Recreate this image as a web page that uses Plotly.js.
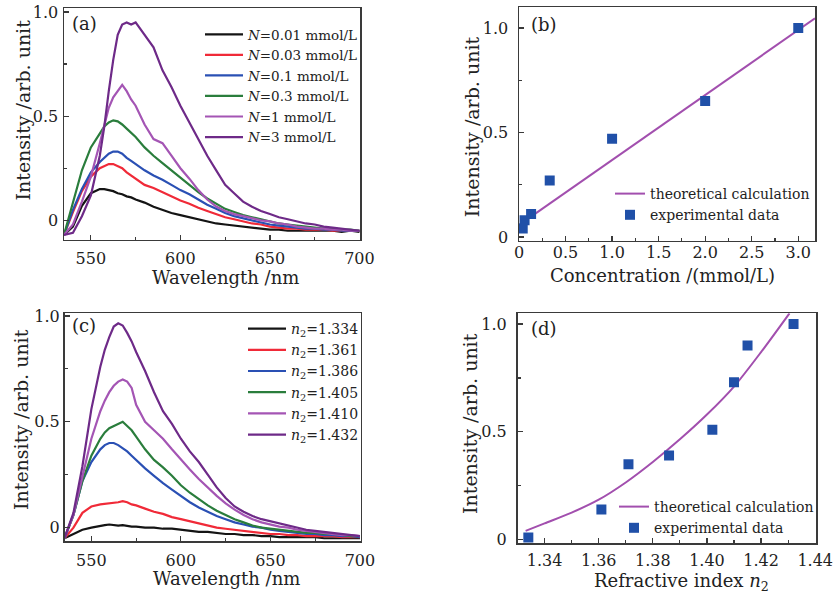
<!DOCTYPE html>
<html><head><meta charset="utf-8">
<script src="https://cdn.plot.ly/plotly-3.0.1.min.js"></script>
<style>html,body{margin:0;padding:0;background:#fff}#chart{width:835px;height:598px}</style>
</head><body><div id="chart"></div>
<script>
// ---------- DATA ----------
const wavelength = [535,540,545,550,555,557.5,560,562.5,565,567.5,570,572.5,575,580,585,590,595,600,605,610,615,620,625,630,635,640,645,650,655,660,665,670,675,680,685,690,695,700];

// panel (a): concentration series
const concLabels = ['<i>N</i>=0.01 mmol/L','<i>N</i>=0.03 mmol/L','<i>N</i>=0.1 mmol/L','<i>N</i>=0.3 mmol/L','<i>N</i>=1 mmol/L','<i>N</i>=3 mmol/L'];
const concN001 = [-0.07,-0.03,0.07,0.13,0.15,0.15,0.145,0.14,0.13,0.125,0.115,0.11,0.10,0.085,0.065,0.05,0.035,0.025,0.015,0.005,-0.005,-0.015,-0.02,-0.025,-0.03,-0.035,-0.04,-0.045,-0.045,-0.05,-0.05,-0.05,-0.05,-0.05,-0.05,-0.055,-0.05,-0.055];
const concN003 = [-0.07,0.04,0.14,0.21,0.25,0.26,0.27,0.27,0.26,0.25,0.23,0.215,0.20,0.17,0.155,0.135,0.115,0.095,0.08,0.06,0.045,0.03,0.015,0.005,-0.005,-0.015,-0.02,-0.03,-0.035,-0.04,-0.04,-0.045,-0.045,-0.045,-0.05,-0.05,-0.05,-0.05];
const concN01 = [-0.07,0.05,0.15,0.23,0.28,0.30,0.32,0.33,0.33,0.32,0.30,0.285,0.27,0.24,0.215,0.195,0.17,0.145,0.125,0.10,0.075,0.055,0.035,0.02,0.01,0.0,-0.01,-0.02,-0.025,-0.03,-0.035,-0.04,-0.04,-0.045,-0.045,-0.05,-0.05,-0.05];
const concN03 = [-0.07,0.08,0.24,0.35,0.42,0.45,0.47,0.48,0.475,0.46,0.44,0.42,0.40,0.35,0.31,0.275,0.24,0.205,0.17,0.135,0.105,0.08,0.055,0.04,0.025,0.015,0.005,-0.005,-0.015,-0.02,-0.025,-0.03,-0.035,-0.04,-0.04,-0.045,-0.045,-0.05];
const concN1 = [-0.07,-0.02,0.09,0.21,0.37,0.46,0.54,0.59,0.62,0.65,0.62,0.58,0.55,0.46,0.39,0.37,0.31,0.25,0.20,0.145,0.10,0.066,0.045,0.03,0.02,0.01,0.0,-0.005,-0.015,-0.02,-0.03,-0.035,-0.04,-0.04,-0.045,-0.045,-0.05,-0.05];
const concN3 = [-0.07,-0.06,0.02,0.12,0.31,0.45,0.62,0.77,0.89,0.94,0.95,0.94,0.95,0.89,0.83,0.72,0.64,0.55,0.47,0.39,0.31,0.24,0.17,0.13,0.09,0.065,0.045,0.03,0.015,0.005,-0.005,-0.015,-0.02,-0.03,-0.035,-0.04,-0.045,-0.05];

// panel (b)
const concX = [0.04,0.06,0.13,0.33,1.0,2.0,3.0];
const concExpY = [0.04,0.08,0.11,0.27,0.47,0.65,1.0];
const concTheoryX = [0.01,3.18];
const concTheoryY = [0.06,1.046];

// panel (c): refractive index series
const nLabels = ['<i>n</i><sub>2</sub>=1.334','<i>n</i><sub>2</sub>=1.361','<i>n</i><sub>2</sub>=1.386','<i>n</i><sub>2</sub>=1.405','<i>n</i><sub>2</sub>=1.410','<i>n</i><sub>2</sub>=1.432'];
const n1334 = [-0.05,-0.03,-0.01,0.0,0.01,0.012,0.015,0.013,0.01,0.012,0.008,0.005,0.005,0.0,0.0,-0.005,-0.005,-0.01,-0.015,-0.02,-0.02,-0.025,-0.03,-0.03,-0.035,-0.035,-0.04,-0.04,-0.045,-0.045,-0.045,-0.045,-0.045,-0.05,-0.05,-0.05,-0.05,-0.05];
const n1361 = [-0.05,0.0,0.07,0.10,0.11,0.112,0.115,0.117,0.12,0.125,0.12,0.11,0.105,0.09,0.075,0.065,0.05,0.04,0.03,0.02,0.01,0.0,-0.005,-0.01,-0.015,-0.02,-0.025,-0.03,-0.03,-0.035,-0.035,-0.04,-0.04,-0.04,-0.04,-0.045,-0.045,-0.045];
const n1386 = [-0.05,0.06,0.22,0.31,0.37,0.39,0.40,0.40,0.39,0.375,0.36,0.34,0.32,0.28,0.245,0.21,0.18,0.15,0.12,0.095,0.075,0.055,0.04,0.025,0.015,0.005,0.0,-0.01,-0.015,-0.02,-0.025,-0.03,-0.03,-0.035,-0.035,-0.04,-0.04,-0.045];
const n1405 = [-0.05,0.06,0.22,0.34,0.42,0.45,0.47,0.48,0.49,0.50,0.48,0.46,0.43,0.37,0.32,0.285,0.245,0.20,0.165,0.135,0.105,0.08,0.06,0.04,0.025,0.01,0.0,-0.005,-0.01,-0.015,-0.02,-0.025,-0.025,-0.03,-0.03,-0.035,-0.04,-0.04];
const n1410 = [-0.05,0.06,0.24,0.42,0.55,0.60,0.64,0.67,0.69,0.70,0.69,0.66,0.58,0.50,0.46,0.42,0.37,0.32,0.275,0.23,0.19,0.15,0.115,0.085,0.06,0.04,0.025,0.015,0.005,0.0,-0.01,-0.015,-0.02,-0.025,-0.03,-0.035,-0.035,-0.04];
const n1432 = [-0.05,0.07,0.29,0.56,0.76,0.84,0.90,0.95,0.965,0.955,0.92,0.88,0.83,0.74,0.64,0.55,0.49,0.42,0.36,0.31,0.25,0.19,0.14,0.10,0.075,0.055,0.04,0.03,0.02,0.01,0.0,-0.01,-0.015,-0.02,-0.025,-0.03,-0.035,-0.04];

// panel (d)
const riX = [1.334,1.361,1.371,1.386,1.402,1.410,1.415,1.432];
const riExpY = [0.01,0.14,0.35,0.39,0.51,0.73,0.90,1.0];
const riTheoryX = [1.333,1.34,1.35,1.36,1.37,1.38,1.39,1.40,1.41,1.42,1.4305];
const riTheoryY = [0.04,0.075,0.125,0.185,0.265,0.36,0.465,0.58,0.71,0.87,1.05];

// tick labels
const xTickWl = [550,600,650,700];
const xTickWlText = ['550','600','650','700'];
const yTickVals = [0,0.5,1.0];
const yTickText = ['0','0.5','1.0'];
const xTickConc = [0,0.5,1.0,1.5,2.0,2.5,3.0];
const xTickConcText = ['0','0.5','1.0','1.5','2.0','2.5','3.0'];
const xTickRi = [1.34,1.36,1.38,1.40,1.42,1.44];
const xTickRiText = ['1.34','1.36','1.38','1.40','1.42','1.44'];

// ---------- STYLE ----------
const W = 835, H = 598;
const FONT = 'DejaVu Serif, Liberation Serif, serif';
const colors = ['#141414','#f02a38','#2a50b4','#2a7d3c','#a455b4','#6e2a88'];
const theoryColor = '#a24fae';
const markerColor = '#2050a8';
const px = v => v / W;
const py = v => 1 - v / H;

const traces = [];
const concSeries = [concN001,concN003,concN01,concN03,concN1,concN3];
concSeries.forEach((s,i)=>traces.push({x:wavelength,y:s,type:'scatter',mode:'lines',name:concLabels[i],
  line:{color:colors[i],width:2.2},xaxis:'x',yaxis:'y',legend:'legend'}));
traces.push({x:concTheoryX,y:concTheoryY,type:'scatter',mode:'lines',name:'theoretical calculation',
  line:{color:theoryColor,width:2},xaxis:'x2',yaxis:'y2',legend:'legend2'});
traces.push({x:concX,y:concExpY,type:'scatter',mode:'markers',name:'experimental data',
  marker:{symbol:'square',size:10,color:markerColor},xaxis:'x2',yaxis:'y2',legend:'legend2'});
const nSeries = [n1334,n1361,n1386,n1405,n1410,n1432];
nSeries.forEach((s,i)=>traces.push({x:wavelength,y:s,type:'scatter',mode:'lines',name:nLabels[i],
  line:{color:colors[i],width:2.2},xaxis:'x3',yaxis:'y3',legend:'legend3'}));
traces.push({x:riTheoryX,y:riTheoryY,type:'scatter',mode:'lines',name:'theoretical calculation',
  line:{color:theoryColor,width:2,shape:'spline',smoothing:0.8},xaxis:'x4',yaxis:'y4',legend:'legend4'});
traces.push({x:riX,y:riExpY,type:'scatter',mode:'markers',name:'experimental data',
  marker:{symbol:'square',size:10,color:markerColor},xaxis:'x4',yaxis:'y4',legend:'legend4'});

const tickFont = {family:FONT,size:16,color:'#222'};
function ax(extra){
  return Object.assign({showgrid:false,zeroline:false,showline:true,linecolor:'#3a3a3a',linewidth:1.5,
    mirror:true,ticks:'inside',ticklen:5,tickwidth:1.2,tickcolor:'#3a3a3a',tickfont:tickFont,fixedrange:true},extra);
}
const legFont = {family:FONT,size:14,color:'#222'};
function leg(x,y,extra){
  return Object.assign({x:px(x),y:py(y),xanchor:'left',yanchor:'top',bgcolor:'rgba(0,0,0,0)',borderwidth:0,
    font:legFont,tracegroupgap:0},extra);
}
function ann(text,x,y,size,angle,xa){
  return {text:text,x:px(x),y:py(y),xref:'paper',yref:'paper',showarrow:false,
    xanchor:xa||'center',yanchor:'middle',textangle:angle||0,font:{family:FONT,size:size,color:'#222'}};
}

const layout = {
  width:W,height:H,margin:{l:0,r:0,t:0,b:0},paper_bgcolor:'#fff',plot_bgcolor:'#fff',showlegend:true,
  xaxis: ax({domain:[px(64),px(360)],range:[535,700.3],tickvals:xTickWl,ticktext:xTickWlText,anchor:'y',
    minor:{ticks:'inside',ticklen:3,dtick:25,tick0:525,tickcolor:'#3a3a3a'},ticklabelstandoff:4}),
  yaxis: ax({domain:[py(239.5),py(8)],range:[-0.092,1.019],tickvals:yTickVals,ticktext:yTickText,anchor:'x',
    minor:{ticks:'inside',ticklen:3,dtick:0.25,tick0:0,tickcolor:'#3a3a3a'},ticklabelstandoff:1}),
  xaxis2: ax({domain:[px(519),px(815)],range:[0,3.18],tickvals:xTickConc,ticktext:xTickConcText,anchor:'y2',
    minor:{ticks:'inside',ticklen:3,dtick:0.25,tick0:0,tickcolor:'#3a3a3a'},ticklabelstandoff:-3}),
  yaxis2: ax({domain:[py(240.5),py(7)],range:[-0.017,1.10],tickvals:yTickVals,ticktext:yTickText,anchor:'x2',
    minor:{ticks:'inside',ticklen:3,dtick:0.25,tick0:0,tickcolor:'#3a3a3a'},ticklabelstandoff:6}),
  xaxis3: ax({domain:[px(64.5),px(360.5)],range:[535,700.3],tickvals:xTickWl,ticktext:xTickWlText,anchor:'y3',
    minor:{ticks:'inside',ticklen:3,dtick:25,tick0:525,tickcolor:'#3a3a3a'},ticklabelstandoff:4}),
  yaxis3: ax({domain:[py(541),py(313)],range:[-0.063,1.014],tickvals:yTickVals,ticktext:yTickText,anchor:'x3',
    minor:{ticks:'inside',ticklen:3,dtick:0.25,tick0:0,tickcolor:'#3a3a3a'},ticklabelstandoff:0}),
  xaxis4: ax({domain:[px(517.5),px(816)],range:[1.33,1.4403],tickvals:xTickRi,ticktext:xTickRiText,anchor:'y4',
    minor:{ticks:'inside',ticklen:3,dtick:0.01,tick0:1.33,tickcolor:'#3a3a3a'},ticklabelstandoff:2}),
  yaxis4: ax({domain:[py(543),py(313.3)],range:[-0.016,1.05],tickvals:yTickVals,ticktext:yTickText,anchor:'x4',
    minor:{ticks:'inside',ticklen:3,dtick:0.25,tick0:0,tickcolor:'#3a3a3a'},ticklabelstandoff:6}),
  legend: leg(200,19,{itemwidth:38,font:{family:FONT,size:13.5,color:'#222'}}),
  legend2: leg(610,178),
  legend3: leg(243,313,{itemwidth:38}),
  legend4: leg(614,491),
  annotations:[
    ann('(a)',70,24,18,0,'left'),
    ann('(b)',529,25,18,0,'left'),
    ann('(c)',70,325,18,0,'left'),
    ann('(d)',529,328,18,0,'left'),
    ann('Wavelength /nm',225,277,18),
    ann('Intensity /arb. unit',22.5,110,19,-90),
    ann('Concentration /(mmol/L)',662.5,275,18),
    ann('Intensity /arb. unit',471.5,126.7,19,-90),
    ann('Wavelength /nm',226.7,578.3,18),
    ann('Intensity /arb. unit',21,420,19,-90),
    ann('Refractive index <i>n</i><sub>2</sub>',681.7,582,18),
    ann('Intensity /arb. unit',470,424,19,-90)
  ]
};
Plotly.newPlot('chart',traces,layout,{staticPlot:true,displayModeBar:false});
</script></body></html>
